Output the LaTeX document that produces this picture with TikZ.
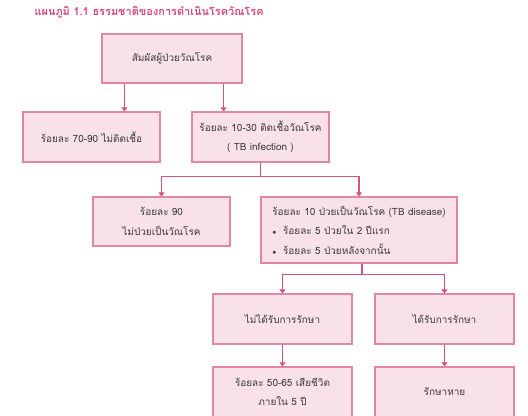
\documentclass[tikz,border=0pt]{standalone}
\usepackage{fontspec}
\newfontfamily\thaifont[Script=Thai]{Loma}
\usetikzlibrary{arrows.meta,positioning}
\definecolor{boxfill}{HTML}{F8E1E8}
\definecolor{boxline}{HTML}{E286A4}
\definecolor{flowline}{HTML}{D4527F}
\definecolor{titlepink}{HTML}{D9457E}
\definecolor{textgray}{HTML}{3A3A3A}
\tikzset{
  stagebox/.style={draw=boxline, fill=boxfill, line width=1.2bp, inner sep=0pt,
    text=textgray, align=center, font=\thaifont\fontsize{10}{19.5}\selectfont},
  flow/.style={draw=flowline, line width=1.3bp, -{Triangle[length=4bp,width=6bp]}},
}
\begin{document}
\begin{tikzpicture}[x=1bp,y=-1bp]
\useasboundingbox (0,0) rectangle (528,415);
\clip (0,0) rectangle (528,415);
\node[anchor=west, text=titlepink, font=\thaifont\bfseries\fontsize{11}{13}\selectfont] (title) at (31,12) {แผนภูมิ 1.1 ธรรมชาติของการดำเนินโรควัณโรค};
% first level
\node[stagebox, minimum width=140bp, minimum height=49bp] (contact) at (172,58.5) {สัมผัสผู้ป่วยวัณโรค};
\node[stagebox, minimum width=137bp, minimum height=50bp] (noinfect) at (91.5,137) {ร้อยละ 70-90 ไม่ติดเชื้อ};
\node[stagebox, minimum width=137bp, minimum height=50bp] (infect) at (260.5,137) {ร้อยละ 10-30 ติดเชื้อวัณโรค\\( TB infection )};
% second level
\node[stagebox, minimum width=137bp, minimum height=49bp] (nosick) at (161.5,221.5) {ร้อยละ 90\\ไม่ป่วยเป็นวัณโรค};
\node[stagebox, align=left, minimum width=196bp, minimum height=66bp] (sick) at (359,230) {ร้อยละ 10 ป่วยเป็นวัณโรค (TB disease)\\$\scriptstyle\bullet$\ \ ร้อยละ 5 ป่วยใน 2 ปีแรก\\$\scriptstyle\bullet$\ \ ร้อยละ 5 ป่วยหลังจากนั้น};
% treatment
\node[stagebox, minimum width=139bp, minimum height=50bp] (notreat) at (282.5,319) {ไม่ได้รับการรักษา};
\node[stagebox, minimum width=139bp, minimum height=50bp] (treat) at (444.5,319) {ได้รับการรักษา};
\node[stagebox, minimum width=139bp, minimum height=50bp] (death) at (282.5,392) {ร้อยละ 50-65 เสียชีวิต\\ภายใน 5 ปี};
\node[stagebox, minimum width=139bp, minimum height=50bp] (cure) at (444.5,392) {รักษาหาย};
% connectors
\coordinate (contactL) at ([xshift=23bp]contact.south west);
\coordinate (contactR) at ([xshift=-19bp]contact.south east);
\draw[flow] (contactL) -- (contactL |- noinfect.north);
\draw[flow] (contactR) -- (contactR |- infect.north);
\coordinate (fork1) at ([yshift=-14bp]infect.south);
\draw[flow] (infect.south) -- (fork1) -| (nosick.north);
\draw[flow] (fork1) -| (sick.north);
\coordinate (sickB) at ([xshift=3bp]sick.south);
\coordinate (fork2) at ([yshift=-11bp]sickB);
\draw[flow] (sickB) -- (fork2) -| (notreat.north);
\draw[flow] (fork2) -| (treat.north);
\draw[flow] (notreat) -- (death);
\draw[flow] (treat) -- (cure);
\end{tikzpicture}
\end{document}
